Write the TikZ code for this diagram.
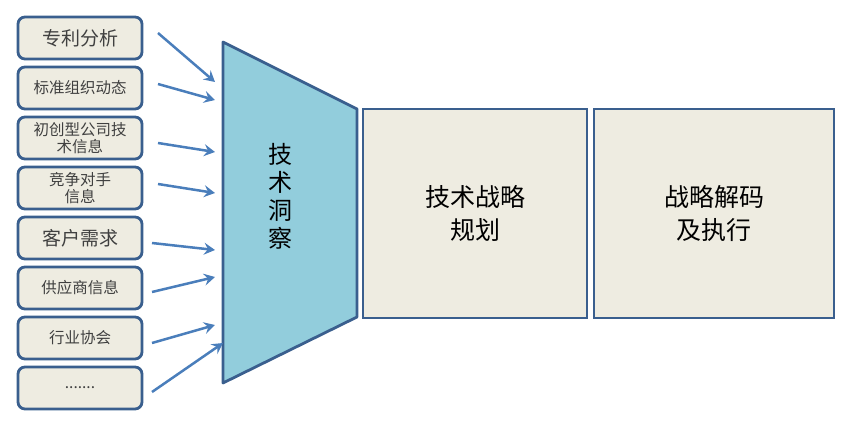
\documentclass[tikz,border=0pt]{standalone}
\usepackage{fontspec}
\setmainfont{Noto Sans CJK SC}
\usetikzlibrary{arrows.meta}
\definecolor{boxfill}{HTML}{EEECE1}
\definecolor{boxdraw}{HTML}{3A5F8E}
\definecolor{funnel}{HTML}{92CDDC}
\definecolor{arrowc}{HTML}{4A7EBB}
\definecolor{txt}{HTML}{404040}
\tikzset{
  srcbox/.style={draw=boxdraw, line width=2.8pt, fill=boxfill, rounded corners=7pt,
    minimum width=124pt, minimum height=42pt, inner sep=0pt, text=txt, align=center,
    font=\fontsize{15.5}{17}\selectfont},
  bigbox/.style={draw=boxdraw, line width=2.8pt, fill=boxfill, inner sep=0pt,
    align=center, text=black, font=\fontsize{25}{33}\selectfont},
  feed/.style={draw=arrowc, line width=2.5pt, -{Stealth[length=11pt,width=12pt,inset=4pt]}}
}
\begin{document}
\begin{tikzpicture}[x=1pt,y=-1pt]
\useasboundingbox (0,0) rectangle (846,422);
% source boxes
\node[srcbox, font=\fontsize{19}{22}\selectfont] (s1) at (80,38) {专利分析};
\node[srcbox] (s2) at (80,88) {标准组织动态};
\node[srcbox, font=\fontsize{15.5}{17}\selectfont] (s3) at (80,138) {初创型公司技\\术信息};
\node[srcbox, font=\fontsize{15.5}{17}\selectfont] (s4) at (80,188) {竞争对手\\信息};
\node[srcbox, font=\fontsize{19}{22}\selectfont] (s5) at (80,238) {客户需求};
\node[srcbox] (s6) at (80,288) {供应商信息};
\node[srcbox] (s7) at (80,338) {行业协会};
\node[srcbox] (s8) at (80,388) {.......};
% funnel
\draw[draw=boxdraw, line width=2.8pt, fill=funnel, line join=round]
  (223,42) -- (357,109) -- (357,317) -- (223,383) -- cycle;
\node[align=center, font=\fontsize{24}{28}\selectfont] (insight) at (280,196) {技\\术\\洞\\察};
% arrow targets
\coordinate (t1) at (215,82);
\coordinate (t2) at (215,100);
\coordinate (t3) at (215,152);
\coordinate (t4) at (215,193);
\coordinate (t5) at (215,250);
\coordinate (t6) at (215,277);
\coordinate (t7) at (215,325);
\coordinate (t8) at (223,343);
\coordinate (f1) at (158,33);
\coordinate (f2) at (158,84);
\coordinate (f3) at (158,143);
\coordinate (f4) at (158,184);
\coordinate (f5) at (152,243);
\coordinate (f6) at (152,292);
\coordinate (f7) at (152,343);
\coordinate (f8) at (152,392);
\foreach \i in {1,...,8} {\draw[feed] (f\i) -- (t\i);}
% big boxes
\node[bigbox, minimum width=224pt, minimum height=209pt] (plan) at (475,213.5) {技术战略\\规划};
\node[bigbox, minimum width=240pt, minimum height=209pt] (exec) at (714,213.5) {战略解码\\及执行};
\end{tikzpicture}
\end{document}
